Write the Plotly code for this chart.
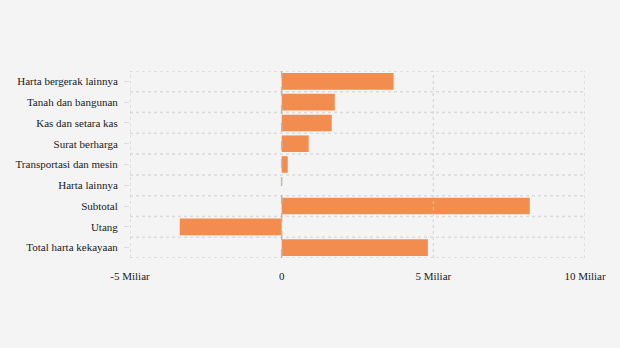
import plotly.graph_objects as go

categories = ["Harta bergerak lainnya", "Tanah dan bangunan", "Kas dan setara kas",
              "Surat berharga", "Transportasi dan mesin", "Harta lainnya",
              "Subtotal", "Utang", "Total harta kekayaan"]
values = [3.69e9, 1.75e9, 1.65e9, 0.89e9, 0.2e9, 0.0, 8.18e9, -3.36e9, 4.82e9]
x_tickvals = [-5e9, 0, 5e9, 10e9]
x_ticktext = ["-5 Miliar", "0", "5 Miliar", "10 Miliar"]

n = len(categories)
ypos = list(range(n))

fig = go.Figure(go.Bar(
    x=values, y=ypos, orientation="h", width=0.8,
    marker=dict(color="#f38d4f", line=dict(width=0)),
))

fig.update_layout(
    width=620, height=348,
    margin=dict(l=130, r=35, t=71, b=90),
    paper_bgcolor="#f4f4f4", plot_bgcolor="#f4f4f4",
    font=dict(family="Liberation Serif, Times New Roman, serif", size=11, color="#1a1a1a"),
    showlegend=False,
)
fig.update_xaxes(
    range=[-5e9, 10e9], tickvals=x_tickvals, ticktext=x_ticktext,
    showgrid=False, zeroline=False, showline=False, ticks="", ticklabelstandoff=10,
)
fig.update_yaxes(
    range=[n - 0.5, -0.5], tickvals=ypos, ticktext=categories,
    showgrid=False, zeroline=False, showline=False,
    ticks="outside", ticklen=5, tickcolor="#dcdcdc", tickwidth=1,
    ticklabelstandoff=4,
)

grid = dict(color="rgba(200,200,200,0.55)", width=1.5, dash="dot")
# horizontal grid at category boundaries
for i in range(n + 1):
    fig.add_shape(type="line", xref="paper", yref="y", x0=0, x1=1, y0=i - 0.5, y1=i - 0.5,
                  line=grid, layer="below")
# vertical grid at ticks
for v in x_tickvals:
    if v == 0:
        continue
    fig.add_shape(type="line", xref="x", yref="paper", x0=v, x1=v, y0=0, y1=1,
                  line=grid, layer="above")
fig.add_shape(type="line", xref="x", yref="paper", x0=0, x1=0, y0=0, y1=1,
              line=dict(color="#c2b8ae", width=1.5, dash="dash"), layer="above")

fig.write_html("out.html")
